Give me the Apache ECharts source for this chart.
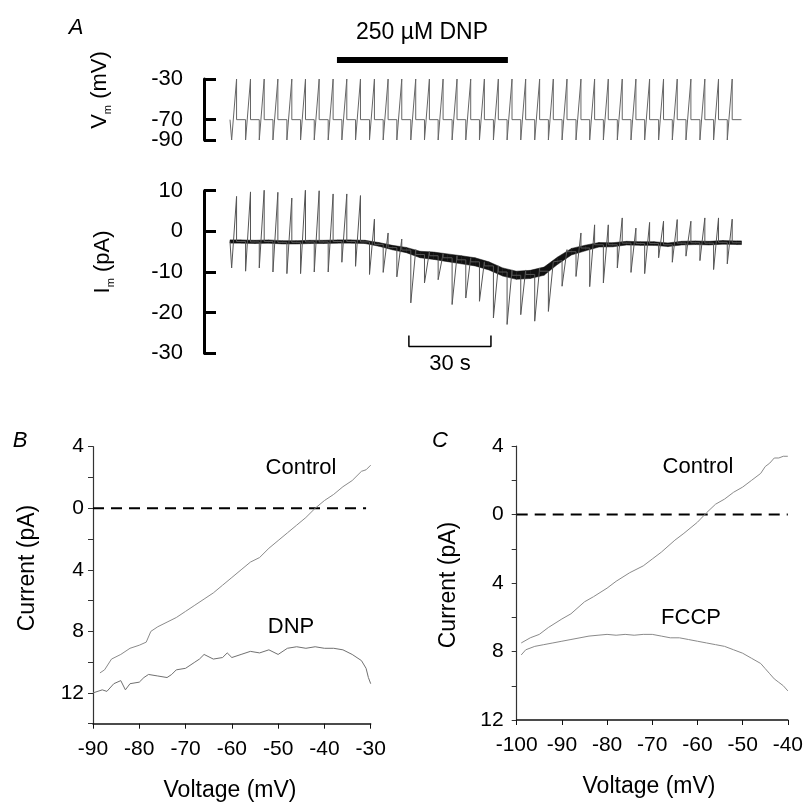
<!DOCTYPE html>
<html>
<head>
<meta charset="utf-8">
<script src="https://cdn.jsdelivr.net/npm/echarts@6/dist/echarts.min.js"></script>
<style>
  html, body { margin: 0; background: #fff; }
  #chart { width: 806px; height: 802px; }
</style>
</head>
<body>
<div id="chart"></div>
<script>
const FONT = '"Liberation Sans", Arial, sans-serif';

// A: one voltage ramp every ~5 s, onset of each ramp (s)
const rampOnsets = [0.6, 5.7, 10.7, 15.7, 20.8, 25.8, 30.8, 35.9, 40.9, 45.9, 51.0, 56.0, 61.0, 66.1, 71.1, 76.1, 81.2, 86.2, 91.2, 96.3, 101.3, 106.3, 111.4, 116.4, 121.4, 126.5, 131.5, 136.5, 141.6, 146.6, 151.6, 156.7, 161.7, 166.7, 171.8, 176.8, 181.8];
const rampLength = 1.8;
const traceEnd = 187;
const vmHold = -70;
const vmRampFrom = -90;
const vmRampTo = -30;
const vmEndTicks = [-90, -30];
const vmHoldTick = [-70];

// membrane current for each sweep (pA)
const imBase = [-2.5, -2.6, -2.5, -2.7, -2.7, -2.6, -2.6, -2.5, -2.5, -2.6, -3.2,
  -4.0, -4.6, -5.7, -6.0, -6.5, -7.0, -7.5, -8.5,
  -10.0, -10.8, -10.6, -9.8, -7.2, -5.0, -4.1, -3.3, -3.3,
  -2.9, -3.0, -3.0, -3.3, -2.9, -2.8, -2.9, -2.7, -2.8];
const imTrough = [-9.0, -9.8, -9.0, -10.0, -10.4, -10.4, -10.0, -10.0, -7.6, -8.6, -10.6,
  -10.1, -11.2, -17.6, -12.7, -11.9, -18.0, -16.4, -17.2,
  -21.3, -22.9, -20.5, -22.1, -19.7, -13.5, -11.1, -13.6, -12.7,
  -9.0, -10.1, -10.4, -6.5, -7.6, -6.1, -7.2, -9.4, -8.0];
const imPeak = [8.6, 9.7, 10.2, 9.6, 8.2, 10.9, 10.0, 9.2, 9.2, 8.8, 3.0,
  -0.4, -1.9, -4.5, -5.0, -5.5, -6.0, -6.5, -7.5,
  -8.5, -9.5, -9.5, -9.0, -7.5, -4.5, -0.4, 1.6, 1.6,
  3.3, 0.8, 2.2, 2.5, 2.9, 2.5, 3.3, 3.3, 3.0];
const imNoise = [0.8, 0.8, 0.8, 0.8, 0.8, 0.8, 0.8, 0.8, 0.8, 0.8, 0.9,
  1.1, 1.3, 1.6, 1.8, 1.9, 2.0, 2.0, 2.0,
  2.0, 2.0, 2.0, 2.0, 1.8, 1.6, 1.4, 1.1, 1.0,
  0.9, 0.9, 0.9, 0.9, 0.9, 0.9, 0.9, 0.9, 0.9];

const dnpPeriod = [39.1, 101.6];
const scaleBarStart = 65.4;
const scaleBarLength = 30;

// B: ramp I-V, control and DNP
const bControl = [[-88.5, -10.7], [-87.5, -10.5], [-86, -9.8], [-84, -9.5], [-82, -9.1], [-80, -8.9], [-78.5, -8.7], [-77.5, -8.0], [-76, -7.7], [-74, -7.4], [-72, -7.1], [-70, -6.7], [-68, -6.3], [-66, -5.9], [-64, -5.5], [-62, -5.0], [-60, -4.5], [-58, -4.0], [-56, -3.5], [-54, -3.2], [-52, -2.6], [-50, -2.1], [-48, -1.6], [-46, -1.1], [-44, -0.6], [-42, 0], [-40, 0.5], [-38, 0.9], [-36, 1.4], [-34, 1.8], [-32, 2.4], [-31, 2.5], [-30, 2.8]];
const bDnp = [[-90, -12.0], [-88, -11.8], [-87, -11.9], [-85.5, -11.4], [-84, -11.2], [-83, -11.8], [-82, -11.4], [-80, -11.3], [-79, -11.0], [-78, -10.8], [-76, -10.9], [-74, -11.0], [-73, -10.8], [-72, -10.5], [-70, -10.4], [-68, -10.0], [-67, -9.8], [-66, -9.5], [-64, -9.8], [-62, -9.7], [-61, -9.4], [-60, -9.7], [-58, -9.5], [-56, -9.3], [-54, -9.4], [-52, -9.2], [-50, -9.5], [-48, -9.1], [-46, -9.0], [-44, -9.1], [-42, -9.0], [-40, -9.1], [-38, -9.1], [-36, -9.2], [-34, -9.5], [-32, -9.9], [-31, -10.4], [-30.5, -11.0], [-30, -11.4]];

// C: ramp I-V, control and FCCP
const cControl = [[-99, -7.5], [-97, -7.2], [-95, -7.0], [-93, -6.6], [-90, -6.1], [-88, -5.8], [-85, -5.1], [-83, -4.8], [-80, -4.3], [-78, -3.9], [-75, -3.4], [-72, -3.0], [-70, -2.6], [-68, -2.2], [-65, -1.5], [-63, -1.1], [-60, -0.45], [-58, 0.1], [-56, 0.6], [-54, 0.9], [-52, 1.3], [-50, 1.6], [-48, 2.0], [-46, 2.4], [-45, 2.8], [-44, 3.0], [-43, 3.3], [-42, 3.3], [-41, 3.4], [-40, 3.4]];
const cFccp = [[-99, -8.2], [-98, -7.9], [-96, -7.7], [-94, -7.6], [-92, -7.5], [-90, -7.4], [-88, -7.3], [-86, -7.2], [-84, -7.1], [-82, -7.05], [-80, -7.0], [-78, -7.05], [-76, -7.0], [-74, -7.05], [-72, -7.0], [-70, -7.0], [-68, -7.1], [-66, -7.2], [-64, -7.2], [-62, -7.3], [-60, -7.4], [-58, -7.5], [-56, -7.6], [-54, -7.7], [-52, -7.9], [-50, -8.1], [-48, -8.4], [-46, -8.7], [-45, -9.0], [-44, -9.3], [-43, -9.6], [-42, -9.8], [-41, -10.0], [-40, -10.3]];

// build the traces of panel A
const vmTrace = [[0, vmHold]];
rampOnsets.forEach((t) => {
  vmTrace.push([t, vmHold], [t, vmRampFrom], [t + rampLength, vmRampTo], [t + rampLength, vmHold]);
});
vmTrace.push([traceEnd, vmHold]);

const imTrace = [[0, imBase[0]]];
const bandPoints = [[0, imBase[0], imNoise[0]]];
rampOnsets.forEach((t, i) => {
  const prev = i > 0 ? imBase[i - 1] : imBase[0];
  const next = i < rampOnsets.length - 1 ? rampOnsets[i + 1] : traceEnd;
  imTrace.push([t, prev], [t, imTrough[i]], [t + rampLength, imPeak[i]], [t + rampLength, imBase[i]]);
  bandPoints.push([(t + rampLength + next) / 2, imBase[i], imNoise[i]]);
});
imTrace.push([traceEnd, imBase[imBase.length - 1]]);
bandPoints.push([traceEnd, imBase[imBase.length - 1], imNoise[imNoise.length - 1]]);
// each band piece joins two neighbouring sweeps
const imBand = bandPoints.slice(1).map((p, i) => bandPoints[i].concat(p));

const hiddenX = (grid) => ({ gridIndex: grid, type: "value", min: 0, max: traceEnd, show: false });

const bracketY = (grid, min, max, extra) => Object.assign({
  gridIndex: grid,
  type: "value",
  position: "left",
  min: min,
  max: max,
  offset: 26,
  axisLine: { show: true, onZero: false, lineStyle: { color: "#000", width: 3 } },
  axisTick: { show: true, inside: true, length: 12, lineStyle: { color: "#000", width: 3 } },
  axisLabel: { margin: 21, fontSize: 22, color: "#000", fontFamily: FONT, showMinLabel: true, showMaxLabel: true },
  splitLine: { show: false },
}, extra);

// the Vm bracket carries its ends on one axis and the holding level on a twin,
// so the close -90 / -70 labels are not thinned out
const vmAxis = (values, showLine) => {
  const axis = bracketY(1, -90, -30);
  axis.axisLine.show = showLine;
  axis.axisTick.customValues = values;
  axis.axisLabel.customValues = values;
  return axis;
};

const ivX = (grid, min, max) => ({
  gridIndex: grid,
  type: "value",
  min: min,
  max: max,
  interval: 10,
  axisLine: { show: true, onZero: false, lineStyle: { color: "#111", width: 1.5 } },
  axisTick: { show: true, length: 5, lineStyle: { color: "#111" } },
  axisLabel: { margin: 15, fontSize: 21, color: "#000", fontFamily: FONT },
  splitLine: { show: false },
});

const ivY = (grid, min, max, margin) => ({
  gridIndex: grid,
  type: "value",
  min: min,
  max: max,
  interval: 2,
  axisLine: { show: true, onZero: false, lineStyle: { color: "#333", width: 1.2 } },
  axisTick: { show: true, length: 5, lineStyle: { color: "#333" } },
  axisLabel: {
    margin: margin,
    fontSize: 21,
    color: "#000",
    fontFamily: FONT,
    formatter: (v) => (v % 4 === 0 ? String(Math.abs(v)) : ""),
  },
  splitLine: { show: false },
});

const line = (x, y, data, color, width, extra) => Object.assign({
  type: "line",
  xAxisIndex: x,
  yAxisIndex: y,
  data: data,
  symbol: "none",
  silent: true,
  lineStyle: { color: color, width: width },
}, extra);

const text = (x, y, str, size, extra) => ({
  type: "text",
  x: x,
  y: y,
  style: Object.assign({
    text: str,
    fill: "#000",
    fontSize: size,
    fontFamily: FONT,
    align: "center",
    verticalAlign: "middle",
    textAlign: "center",
    textVerticalAlign: "middle",
  }, extra),
});

const subLabel = (x, y, main, sub, unit) => ({
  type: "text",
  x: x,
  y: y,
  rotation: Math.PI / 2,
  style: {
    text: `{a|${main}}{s|${sub}}{a| ${unit}}`,
    fill: "#000",
    align: "center",
    verticalAlign: "middle",
    textAlign: "center",
    textVerticalAlign: "middle",
    rich: {
      a: { fontSize: 22, fontFamily: FONT, lineHeight: 26, verticalAlign: "middle" },
      s: { fontSize: 11, fontFamily: FONT, lineHeight: 26, verticalAlign: "bottom" },
    },
  },
});

const option = {
  animation: false,
  backgroundColor: "#fff",
  grid: [
    { left: 230, top: 57, width: 511.5, height: 6 },
    { left: 230, top: 79, width: 511.5, height: 61 },
    { left: 230, top: 190.7, width: 511.5, height: 162.6 },
    { left: 93, top: 446.7, width: 277.7, height: 277 },
    { left: 516.7, top: 446, width: 276, height: 274 },
  ],
  xAxis: [
    hiddenX(0),
    hiddenX(1),
    hiddenX(2),
    ivX(3, -90, -30),
    ivX(4, -100, -40),
  ],
  yAxis: [
    { gridIndex: 0, type: "value", min: 0, max: 1, show: false },
    vmAxis(vmEndTicks, true),
    bracketY(2, -30, 10, { interval: 10 }),
    ivY(3, -14, 4, 9),
    ivY(4, -12, 4, 13),
    vmAxis(vmHoldTick, false),
  ],
  series: [
    line(0, 0, [[dnpPeriod[0], 0.5], [dnpPeriod[1], 0.5]], "#000", 6),
    line(1, 1, vmTrace, "#666", 1),
    {
      type: "custom",
      xAxisIndex: 2,
      yAxisIndex: 2,
      silent: true,
      data: imBand,
      encode: { x: [0, 3], y: [1, 4] },
      renderItem: function (params, api) {
        const a = [api.value(0), api.value(1), api.value(2)];
        const b = [api.value(3), api.value(4), api.value(5)];
        return {
          type: "polygon",
          shape: {
            points: [
              api.coord([a[0], a[1] + a[2] / 2]),
              api.coord([b[0], b[1] + b[2] / 2]),
              api.coord([b[0], b[1] - b[2] / 2]),
              api.coord([a[0], a[1] - a[2] / 2]),
            ],
          },
          style: { fill: "#111", stroke: "#111", lineWidth: 0.5 },
        };
      },
    },
    line(2, 2, imTrace, "#555", 1),
    line(2, 2, [
      [scaleBarStart, -25.6], [scaleBarStart, -28.3],
      [scaleBarStart + scaleBarLength, -28.3], [scaleBarStart + scaleBarLength, -25.6],
    ], "#000", 1.5),
    line(3, 3, [[-90, 0], [-31, 0]], "#000", 2, { lineStyle: { color: "#000", width: 2, type: [11, 7] } }),
    line(3, 3, bControl, "#8a8a8a", 1),
    line(3, 3, bDnp, "#707070", 1),
    line(4, 4, [[-100, 0], [-40, 0]], "#000", 2, { lineStyle: { color: "#000", width: 2, type: [11, 7] } }),
    line(4, 4, cControl, "#8a8a8a", 1),
    line(4, 4, cFccp, "#8a8a8a", 1),
  ],
  graphic: [
    text(76, 28, "A", 22, { fontStyle: "italic" }),
    text(422, 33, "250 µM DNP", 23),
    subLabel(100, 90, "V", "m", "(mV)"),
    subLabel(103, 262, "I", "m", "(pA)"),
    text(450, 364, "30 s", 22),
    text(20, 441, "B", 22, { fontStyle: "italic" }),
    text(440, 441, "C", 22, { fontStyle: "italic" }),
    text(301, 468, "Control", 22),
    text(291, 627, "DNP", 22),
    text(698, 467, "Control", 22),
    text(691, 618, "FCCP", 22),
    Object.assign(text(28, 568, "Current (pA)", 23), { rotation: Math.PI / 2 }),
    Object.assign(text(449, 585, "Current (pA)", 23), { rotation: Math.PI / 2 }),
    text(230, 791, "Voltage (mV)", 23),
    text(649, 787, "Voltage (mV)", 23),
  ],
};

const chart = echarts.init(document.getElementById("chart"), null, { renderer: "canvas" });
chart.setOption(option);
</script>
</body>
</html>
